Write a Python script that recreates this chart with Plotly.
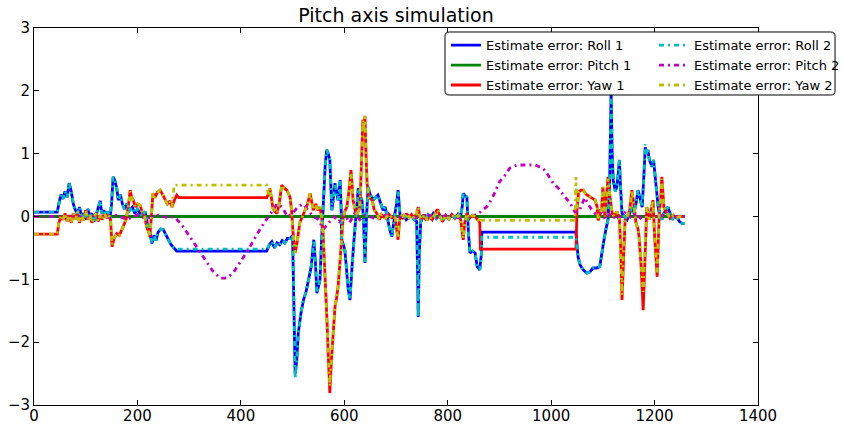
import plotly.graph_objects as go

# ---------------- data ----------------
roll1_x = [0, 45, 48, 52, 56, 60, 64, 68, 72, 76, 80, 84, 88, 92, 96, 100, 104, 108, 112, 116, 120, 124, 128, 131, 135, 139, 143, 147, 150, 153, 156, 160, 163, 167, 171, 175, 180, 185, 190, 195, 200, 205, 210, 215, 220, 224, 228, 232, 236, 240, 245, 250, 255, 260, 265, 270, 276,
           450, 455, 460, 465, 470, 475, 480, 485, 490, 495, 500, 503, 505, 508, 511, 516, 521, 526, 531, 536, 541, 544, 547, 550, 553, 556, 560, 563, 566, 569, 572, 574, 576, 579, 582, 585, 588, 590, 592, 594, 595, 598, 601, 604, 607, 611, 613, 615, 618, 621, 624, 627, 630, 634, 637, 640, 643, 646, 650, 656, 660, 665, 670, 675, 679, 684, 688, 692, 695, 698, 701, 704, 706, 708, 712, 716, 720, 725, 730, 735, 740, 742, 743, 745, 748, 752, 757, 762, 767, 772, 778, 784, 790, 796, 802, 808, 814, 820, 825, 828, 830, 833, 837, 840, 843, 848, 853, 857, 862, 865, 866,
           1048, 1050, 1052, 1056, 1062, 1069, 1075, 1081, 1088, 1094, 1097, 1101, 1106, 1110, 1113, 1116, 1118, 1120, 1124, 1127, 1130, 1132, 1134, 1137, 1142, 1147, 1152, 1156, 1160, 1164, 1168, 1172, 1176, 1179, 1182, 1185, 1187, 1190, 1195, 1198, 1201, 1204, 1207, 1210, 1214, 1218, 1222, 1226, 1230, 1234, 1238, 1243, 1248, 1253, 1258]
roll1_y = [0.07, 0.07, 0.2, 0.35, 0.28, 0.4, 0.3, 0.53, 0.4, 0.2, 0.1, 0.05, 0.15, 0.0, 0.05, -0.05, 0.12, 0.0, 0.05, -0.08, 0.02, 0.15, 0.25, 0.05, 0.1, 0.02, 0.08, -0.02, 0.2, 0.63, 0.58, 0.45, 0.26, 0.35, 0.2, 0.12, 0.2, 0.1, 0.15, 0.05, 0.12, 0.05, 0.0, 0.08, -0.15, -0.25, -0.43, -0.3, -0.38, -0.25, -0.2, -0.21, -0.3, -0.37, -0.45, -0.5, -0.55,
           -0.55, -0.45, -0.4, -0.5, -0.42, -0.45, -0.38, -0.42, -0.35, -0.35, -0.3, -1.5, -2.5, -2.3, -1.86, -1.55, -1.33, -1.2, -1.01, -0.8, -0.37, -0.7, -1.22, -1.1, -1.01, -0.4, 0.42, 0.8, 1.06, 1.0, 0.9, 0.4, 0.1, 0.3, 0.53, 0.4, 0.26, 0.4, 0.58, 0.1, -0.37, -0.45, -0.53, -0.8, -1.12, -1.33, -1.0, -0.8, -0.45, -0.17, 0.2, 0.45, 0.35, 0.26, 0.0, -0.74, 0.0, 0.47, 0.35, 0.26, 0.3, 0.34, 0.22, 0.1, 0.15, -0.06, -0.21, -0.32, -0.1, 0.05, 0.2, 0.42, 0.2, 0.0, -0.02, 0.03, -0.05, -0.02, 0.02, -0.05, -0.08, -1.0, -1.6, -0.6, -0.05, 0.02, -0.04, 0.03, -0.02, 0.05, -0.03, 0.02, -0.06, 0.0, -0.04, 0.03, -0.02, 0.04, 0.0, 0.15, 0.37, 0.33, 0.31, -0.26, -0.58, -0.55, -0.58, -0.8, -0.85, -0.6, -0.25,
           -0.25, -0.45, -0.64, -0.77, -0.85, -0.9, -0.88, -0.82, -0.82, -0.8, -0.6, -0.43, -0.2, -0.05, 0.5, 2.0, 1.0, 0.58, 0.4, 0.47, 0.7, 0.9, 0.5, 0.05, 0.0, -0.05, 0.05, 0.15, 0.05, 0.2, 0.42, 0.3, 0.15, 0.6, 1.1, 1.0, 1.06, 0.9, 0.79, 0.9, 0.63, 0.4, 0.15, 0.02, -0.05, 0.05, 0.1, 0.15, 0.05, -0.05, 0.0, 0.0, -0.08, -0.11, -0.11]

roll2_x = [0, 45, 48, 52, 56, 60, 64, 68, 72, 76, 80, 84, 88, 92, 96, 100, 104, 108, 112, 116, 120, 124, 128, 131, 135, 139, 143, 147, 150, 153, 156, 160, 163, 167, 171, 175, 180, 185, 190, 195, 200, 205, 210, 215, 220, 224, 228, 232, 236, 240, 245, 250, 255, 260, 265, 270, 276,
           450, 455, 460, 465, 470, 475, 480, 485, 490, 495, 500, 503, 505, 508, 511, 516, 521, 526, 531, 536, 541, 544, 547, 550, 553, 556, 560, 563, 566, 569, 572, 574, 576, 579, 582, 585, 588, 590, 592, 594, 595, 598, 601, 604, 607, 611, 613, 615, 618, 621, 624, 627, 630, 634, 637, 640, 643, 646, 650, 656, 660, 665, 670, 675, 679, 684, 688, 692, 695, 698, 701, 704, 706, 708, 712, 716, 720, 725, 730, 735, 740, 742, 743, 745, 748, 752, 757, 762, 767, 772, 778, 784, 790, 796, 802, 808, 814, 820, 825, 828, 830, 833, 837, 840, 843, 848, 853, 857, 862, 865, 866,
           1048, 1050, 1052, 1056, 1062, 1069, 1075, 1081, 1088, 1094, 1097, 1101, 1106, 1110, 1113, 1116, 1118, 1120, 1124, 1127, 1130, 1132, 1134, 1137, 1142, 1147, 1152, 1156, 1160, 1164, 1168, 1172, 1176, 1179, 1182, 1185, 1187, 1190, 1195, 1198, 1201, 1204, 1207, 1210, 1214, 1218, 1222, 1226, 1230, 1234, 1238, 1243, 1248, 1253, 1258]
roll2_y = [0.07, 0.07, 0.2, 0.35, 0.28, 0.4, 0.3, 0.53, 0.4, 0.2, 0.1, 0.05, 0.15, 0.0, 0.05, -0.05, 0.12, 0.0, 0.05, -0.08, 0.02, 0.15, 0.25, 0.05, 0.1, 0.02, 0.08, -0.02, 0.2, 0.63, 0.58, 0.45, 0.26, 0.35, 0.2, 0.12, 0.2, 0.1, 0.15, 0.05, 0.12, 0.05, 0.0, 0.08, -0.15, -0.25, -0.43, -0.3, -0.38, -0.25, -0.2, -0.21, -0.3, -0.37, -0.45, -0.5, -0.52,
           -0.52, -0.45, -0.4, -0.5, -0.42, -0.45, -0.38, -0.42, -0.35, -0.35, -0.3, -1.5, -2.58, -2.3, -1.86, -1.55, -1.33, -1.2, -1.01, -0.8, -0.37, -0.7, -1.22, -1.1, -1.01, -0.4, 0.42, 0.8, 1.06, 1.0, 0.9, 0.4, 0.1, 0.3, 0.53, 0.4, 0.26, 0.4, 0.58, 0.1, -0.37, -0.45, -0.53, -0.8, -1.12, -1.33, -1.0, -0.8, -0.45, -0.17, 0.2, 0.45, 0.35, 0.26, 0.0, -0.74, 0.0, 0.47, 0.35, 0.26, 0.3, 0.34, 0.22, 0.1, 0.15, -0.06, -0.21, -0.32, -0.1, 0.05, 0.2, 0.42, 0.2, 0.0, -0.02, 0.03, -0.05, -0.02, 0.02, -0.05, -0.08, -1.0, -1.6, -0.6, -0.05, 0.02, -0.04, 0.03, -0.02, 0.05, -0.03, 0.02, -0.06, 0.0, -0.04, 0.03, -0.02, 0.04, 0.0, 0.15, 0.37, 0.33, 0.31, -0.26, -0.58, -0.55, -0.58, -0.8, -0.85, -0.6, -0.33,
           -0.33, -0.45, -0.64, -0.77, -0.85, -0.9, -0.88, -0.82, -0.82, -0.8, -0.6, -0.43, -0.2, -0.05, 0.5, 1.95, 1.0, 0.58, 0.4, 0.47, 0.7, 0.9, 0.5, 0.05, 0.0, -0.05, 0.05, 0.15, 0.05, 0.2, 0.42, 0.3, 0.15, 0.6, 1.15, 1.0, 1.06, 0.9, 0.79, 0.9, 0.63, 0.4, 0.15, 0.02, -0.05, 0.05, 0.1, 0.15, 0.05, -0.05, 0.0, 0.0, -0.08, -0.11, -0.11]

yaw1_x = [0, 45, 48, 52, 56, 60, 64, 68, 72, 76, 80, 84, 88, 92, 96, 100, 104, 108, 112, 116, 120, 124, 128, 132, 136, 140, 144, 148, 151, 155, 160, 165, 172, 178, 183, 186, 189, 192, 196, 200, 205, 210, 214, 218, 222, 224, 227, 230, 234, 238, 244, 248, 253, 258, 263, 267, 271, 276, 280,
          450, 453, 456, 459, 462, 466, 470, 474, 479, 484, 489, 495, 498, 501, 505, 509, 514, 519, 524, 529, 534, 537, 540, 545, 549, 553, 556, 559, 563, 566, 569, 572, 575, 578, 582, 585, 588, 591, 593, 596, 598, 602, 605, 609, 613, 615, 617, 621, 625, 628, 630, 633, 636, 638, 640, 642, 644, 648, 654, 658, 663, 668, 672, 675, 680, 686, 692, 698, 701, 704, 707, 712, 716, 720, 725, 730, 735, 740, 743, 746, 750, 755, 760, 765, 770, 775, 779, 781, 785, 790, 796, 802, 808, 814, 820, 825, 828, 830, 833, 837, 842, 848, 853, 857, 862, 863,
          1048, 1050, 1053, 1058, 1062, 1068, 1075, 1080, 1085, 1089, 1091, 1095, 1098, 1100, 1102, 1104, 1107, 1110, 1114, 1118, 1122, 1127, 1132, 1135, 1137, 1140, 1143, 1148, 1152, 1156, 1160, 1164, 1168, 1170, 1174, 1178, 1181, 1185, 1190, 1194, 1197, 1200, 1205, 1209, 1212, 1214, 1216, 1218, 1224, 1230, 1236, 1242, 1249, 1258]
yaw1_y = [-0.28, -0.28, -0.1, 0.0, -0.05, 0.05, -0.08, 0.02, -0.1, 0.05, -0.05, 0.08, -0.1, 0.02, -0.06, 0.1, -0.05, 0.03, -0.1, 0.0, 0.05, -0.08, 0.02, -0.05, 0.05, -0.02, 0.03, -0.05, -0.48, -0.35, -0.27, -0.3, -0.17, -0.05, 0.2, 0.42, 0.3, 0.26, 0.15, 0.2, 0.18, 0.05, 0.0, -0.17, -0.25, -0.32, 0.0, 0.37, 0.3, 0.38, 0.42, 0.35, 0.26, 0.2, 0.25, 0.15, 0.25, 0.34, 0.3,
          0.3, 0.35, 0.45, 0.3, 0.13, 0.08, 0.05, 0.2, 0.5, 0.45, 0.42, 0.31, 0.1, -0.27, -0.58, -0.4, -0.1, 0.0, 0.1, 0.2, 0.37, 0.2, 0.1, 0.2, 0.1, 0.15, 0.0, -0.27, -0.9, -1.54, -2.2, -2.81, -2.3, -1.86, -1.44, -1.3, -1.12, -0.8, -0.53, -0.2, 0.0, 0.1, 0.15, 0.4, 0.74, 0.5, 0.26, 0.1, 0.0, 0.15, 0.1, 0.8, 1.54, 1.4, 1.6, 1.0, 0.53, 0.3, 0.26, 0.1, 0.05, -0.05, 0.03, 0.0, -0.03, 0.04, -0.02, 0.0, -0.2, -0.37, -0.05, 0.03, -0.04, 0.05, -0.02, 0.03, -0.03, 0.05, 0.15, 0.0, -0.05, 0.03, -0.06, 0.0, -0.05, 0.05, 0.1, 0.1, 0.0, -0.08, 0.02, -0.04, 0.03, -0.03, 0.02, -0.05, -0.2, -0.37, -0.1, 0.05, -0.03, 0.02, 0.0, -0.05, -0.1, -0.52,
          -0.52, 0.1, 0.39, 0.42, 0.42, 0.35, 0.31, 0.28, 0.26, 0.15, -0.06, 0.05, 0.15, 0.47, 0.2, 0.0, 0.3, 0.63, 0.3, 0.05, 0.0, 0.08, -0.02, -0.6, -1.33, -0.5, -0.05, 0.02, 0.1, 0.42, 0.2, -0.1, -0.2, -0.32, -0.8, -1.49, -0.6, 0.15, -0.05, 0.1, 0.26, -0.3, -0.96, 0.05, 0.3, 0.63, 0.4, 0.15, 0.05, -0.03, 0.02, -0.02, 0.0, 0.0]

yaw2_x = [0, 45, 48, 52, 56, 60, 64, 68, 72, 76, 80, 84, 88, 92, 96, 100, 104, 108, 112, 116, 120, 124, 128, 132, 136, 140, 144, 148, 151, 155, 160, 165, 172, 178, 183, 186, 189, 192, 196, 200, 205, 210, 214, 218, 222, 224, 227, 230, 234, 238, 244, 248, 253, 258, 263, 267, 271,
          450, 453, 456, 459, 462, 466, 470, 474, 479, 484, 489, 495, 498, 501, 505, 509, 514, 519, 524, 529, 534, 537, 540, 545, 549, 553, 556, 559, 563, 566, 569, 572, 575, 578, 582, 585, 588, 591, 593, 596, 598, 602, 605, 609, 613, 615, 617, 621, 625, 628, 630, 633, 636, 638, 640, 642, 644, 648, 654, 658, 663, 668, 672, 675, 680, 686, 692, 698, 701, 704, 707, 712, 716, 720, 725, 730, 735, 740, 743, 746, 750, 755, 760, 765, 770, 775, 779, 781, 785, 790, 796, 802, 808, 814, 820, 825, 828, 830, 833, 837, 842, 848, 853, 857, 862, 863,
          1046, 1048, 1050, 1053, 1058, 1062, 1068, 1075, 1080, 1085, 1089, 1091, 1095, 1098, 1100, 1102, 1104, 1107, 1110, 1114, 1118, 1122, 1127, 1132, 1135, 1137, 1140, 1143, 1148, 1152, 1156, 1160, 1164, 1168, 1170, 1174, 1178, 1181, 1185, 1190, 1194, 1197, 1200, 1205, 1209, 1212, 1214, 1216, 1218, 1224, 1230, 1236, 1242, 1249, 1258]
yaw2_y = [-0.28, -0.28, -0.1, 0.0, -0.05, 0.05, -0.08, 0.02, -0.1, 0.05, -0.05, 0.08, -0.1, 0.02, -0.06, 0.1, -0.05, 0.03, -0.1, 0.0, 0.05, -0.08, 0.02, -0.05, 0.05, -0.02, 0.03, -0.05, -0.45, -0.35, -0.27, -0.3, -0.17, -0.05, 0.2, 0.4, 0.3, 0.26, 0.15, 0.2, 0.18, 0.05, 0.0, -0.17, -0.25, -0.32, 0.0, 0.37, 0.3, 0.38, 0.42, 0.35, 0.26, 0.2, 0.25, 0.15, 0.5,
          0.5, 0.35, 0.45, 0.3, 0.13, 0.08, 0.05, 0.2, 0.5, 0.45, 0.42, 0.31, 0.1, -0.27, -0.58, -0.4, -0.1, 0.0, 0.1, 0.2, 0.37, 0.2, 0.1, 0.2, 0.1, 0.15, 0.0, -0.27, -0.9, -1.54, -2.2, -2.7, -2.3, -1.86, -1.44, -1.3, -1.12, -0.8, -0.53, -0.2, 0.0, 0.1, 0.15, 0.4, 0.7, 0.5, 0.26, 0.1, 0.0, 0.15, 0.1, 0.8, 1.54, 1.4, 1.6, 1.0, 0.53, 0.3, 0.26, 0.1, 0.05, -0.05, 0.03, 0.0, -0.03, 0.04, -0.02, 0.0, -0.2, -0.35, -0.05, 0.03, -0.04, 0.05, -0.02, 0.03, -0.03, 0.05, 0.15, 0.0, -0.05, 0.03, -0.06, 0.0, -0.05, 0.05, 0.1, 0.1, 0.0, -0.08, 0.02, -0.04, 0.03, -0.03, 0.02, -0.05, -0.2, -0.35, -0.1, 0.05, -0.03, 0.02, 0.0, -0.05, -0.1, -0.06,
          -0.06, 0.63, 0.1, 0.39, 0.42, 0.42, 0.35, 0.31, 0.28, 0.26, 0.15, -0.06, 0.05, 0.15, 0.47, 0.2, 0.0, 0.3, 0.6, 0.3, 0.05, 0.0, 0.08, -0.02, -0.6, -1.25, -0.5, -0.05, 0.02, 0.1, 0.42, 0.2, -0.1, -0.2, -0.32, -0.8, -1.2, -0.6, 0.15, -0.05, 0.1, 0.26, -0.3, -0.9, 0.05, 0.3, 0.6, 0.4, 0.15, 0.05, -0.03, 0.02, -0.02, 0.0, 0.0]

pitch1_x = [0, 1258]
pitch1_y = [0.0, 0.0]

pitch2_x = [0, 50, 60, 80, 100, 120, 140, 160, 180, 200, 220, 240, 260, 270, 285, 300, 315, 330, 345, 360, 372, 385, 400, 415, 430, 445, 458, 470, 480, 490, 500, 510, 520, 530, 540, 550, 560, 570, 580, 590, 600, 610, 620, 630, 640, 660, 680, 700, 720, 740, 760, 780, 800, 820, 840, 857, 876, 886, 893, 900, 911, 920, 934, 953, 969, 984, 994, 1004, 1015, 1027, 1037, 1046, 1055, 1065, 1075, 1085, 1095, 1105, 1115, 1125, 1135, 1145, 1155, 1165, 1175, 1185, 1195, 1205, 1215, 1230, 1245, 1258]
pitch2_y = [0.0, 0.0, -0.03, 0.02, -0.04, 0.03, -0.02, 0.02, -0.05, 0.03, -0.03, 0.02, -0.02, 0.0, -0.12, -0.3, -0.5, -0.68, -0.86, -0.98, -0.98, -0.9, -0.72, -0.52, -0.3, -0.1, 0.05, 0.2, 0.15, 0.0, 0.05, 0.15, 0.2, 0.1, 0.0, -0.05, -0.2, -0.1, 0.0, -0.08, 0.05, -0.1, 0.05, -0.05, 0.02, -0.03, 0.02, -0.02, 0.02, -0.02, 0.03, -0.02, 0.02, -0.02, 0.0, 0.03, 0.16, 0.29, 0.42, 0.55, 0.66, 0.77, 0.82, 0.82, 0.82, 0.77, 0.66, 0.53, 0.44, 0.31, 0.21, 0.07, 0.1, 0.3, 0.15, 0.05, 0.1, -0.05, 0.05, -0.05, 0.0, 0.08, -0.03, 0.05, -0.05, 0.02, 0.08, -0.03, 0.02, 0.0, 0.0, 0.0]

x_ticks = [0, 200, 400, 600, 800, 1000, 1200, 1400]
y_ticks = [-3, -2, -1, 0, 1, 2, 3]

FONT = "DejaVu Sans"
DASHDOT = "5px,4px,2px,4px"
LW = 2.8

fig = go.Figure()
fig.add_trace(go.Scatter(x=roll1_x, y=roll1_y, mode="lines", name="Estimate error: Roll 1",
                         line=dict(color="#0000ff", width=LW), legend="legend"))
fig.add_trace(go.Scatter(x=pitch1_x, y=pitch1_y, mode="lines", name="Estimate error: Pitch 1",
                         line=dict(color="#008000", width=LW), legend="legend"))
fig.add_trace(go.Scatter(x=yaw1_x, y=yaw1_y, mode="lines", name="Estimate error: Yaw 1",
                         line=dict(color="#ff0000", width=LW), legend="legend"))
fig.add_trace(go.Scatter(x=roll2_x, y=roll2_y, mode="lines", name="Estimate error: Roll 2",
                         line=dict(color="#00bfbf", width=LW, dash=DASHDOT), legend="legend2"))
fig.add_trace(go.Scatter(x=pitch2_x, y=pitch2_y, mode="lines", name="Estimate error: Pitch 2",
                         line=dict(color="#bf00bf", width=LW, dash=DASHDOT), legend="legend2"))
fig.add_trace(go.Scatter(x=yaw2_x, y=yaw2_y, mode="lines", name="Estimate error: Yaw 2",
                         line=dict(color="#bfbf00", width=LW, dash=DASHDOT), legend="legend2"))

# legend frame (rounded rectangle, paper coordinates)
x0, x1, y0, y1 = 0.5677, 1.1064, 0.8223, 0.9894
rx, ry = 0.006, 0.011
path = (f"M {x0+rx},{y1} L {x1-rx},{y1} Q {x1},{y1} {x1},{y1-ry} L {x1},{y0+ry} "
        f"Q {x1},{y0} {x1-rx},{y0} L {x0+rx},{y0} Q {x0},{y0} {x0},{y0+ry} L {x0},{y1-ry} "
        f"Q {x0},{y1} {x0+rx},{y1} Z")
fig.add_shape(type="path", path=path, xref="paper", yref="paper",
              line=dict(color="black", width=1), fillcolor="white", layer="above")

axis_common = dict(showline=True, linecolor="black", linewidth=1, mirror="allticks",
                   ticks="inside", ticklen=5, tickcolor="black", showgrid=False,
                   zeroline=False, automargin=False,
                   tickfont=dict(family=FONT, size=15, color="black"))

fig.update_layout(
    width=845, height=427,
    margin=dict(l=34, r=87, t=28, b=22, autoexpand=False),
    paper_bgcolor="white", plot_bgcolor="white",
    font=dict(family=FONT, color="black"),
    title=dict(text="Pitch axis simulation", x=0.5, xanchor="center", xref="paper",
               y=1 - 15 / 427, yanchor="middle",
               font=dict(family=FONT, size=19, color="black")),
    xaxis=dict(range=[0, 1400], tickvals=x_ticks, ticklabelstandoff=-3, **axis_common),
    yaxis=dict(range=[-3, 3], tickvals=y_ticks, **axis_common),
    legend=dict(x=0.569, y=0.994, xanchor="left", yanchor="top", bgcolor="rgba(0,0,0,0)",
                borderwidth=0, font=dict(family=FONT, size=13, color="black"),
                itemwidth=30, tracegroupgap=0),
    legend2=dict(x=0.8564, y=0.994, xanchor="left", yanchor="top", bgcolor="rgba(0,0,0,0)",
                 borderwidth=0, font=dict(family=FONT, size=13, color="black"),
                 itemwidth=30, tracegroupgap=0),
    showlegend=True,
)

fig.write_html("out.html")
